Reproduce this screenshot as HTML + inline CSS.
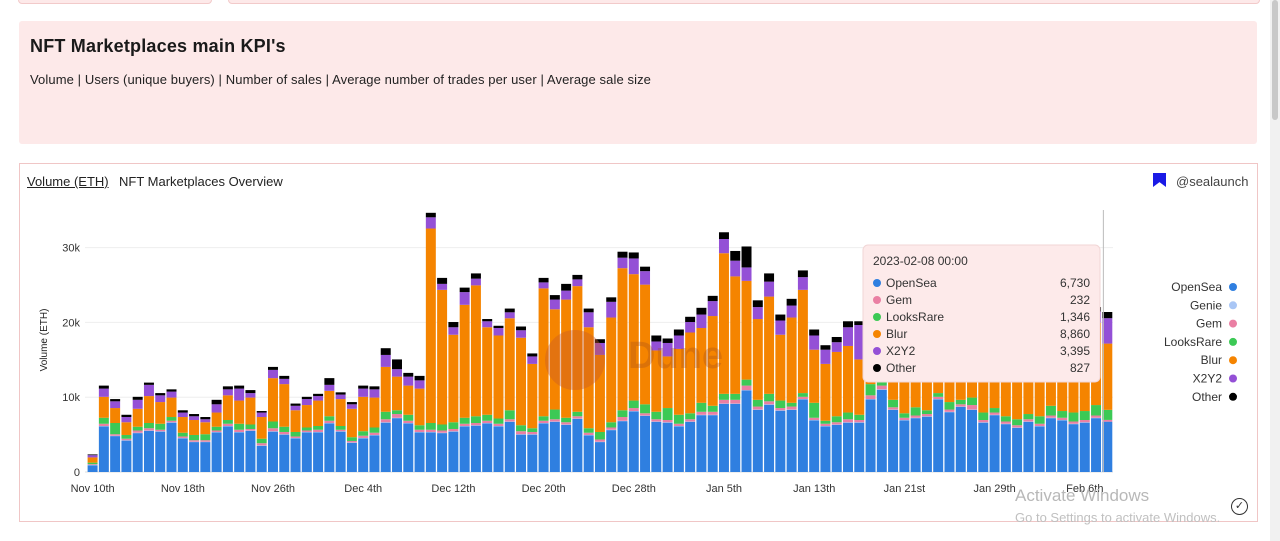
<!DOCTYPE html>
<html><head><meta charset="utf-8">
<style>
body{margin:0;width:1280px;height:541px;background:#fff;font-family:"Liberation Sans",sans-serif;position:relative;overflow:hidden;color:#222}
.abs{position:absolute}
</style></head><body>
<div class="abs" style="left:18px;top:-10px;width:192px;height:12px;border:1px solid #f2caca;border-radius:4px;background:#fde9e9"></div>
<div class="abs" style="left:228px;top:-10px;width:1030px;height:12px;border:1px solid #f2caca;border-radius:4px;background:#fde9e9"></div>
<div class="abs" style="left:19px;top:21px;width:1238px;height:123px;background:#fde9e9;border-radius:3px">
  <div class="abs" style="left:11px;top:15px;font-size:18px;font-weight:bold;color:#1a1a1a;letter-spacing:0.2px">NFT Marketplaces main KPI's</div>
  <div class="abs" style="left:11px;top:51px;font-size:13px;color:#222;letter-spacing:0.1px">Volume | Users (unique buyers) | Number of sales | Average number of trades per user | Average sale size</div>
</div>
<div class="abs" style="left:1270px;top:0;width:10px;height:541px;background:#f1f1f1"><div style="position:absolute;left:2px;top:0;width:6px;height:120px;background:#c8c8c8;border-radius:3px"></div></div>
<div class="abs" style="left:19px;top:163px;width:1237px;height:357px;border:1px solid #f0c6c6;background:#fff">
  <div class="abs" style="left:7px;top:10px;font-size:13px;text-decoration:underline;color:#222">Volume (ETH)</div>
  <div class="abs" style="left:99px;top:10px;font-size:13px;color:#222">NFT Marketplaces Overview</div>
  <div class="abs" style="left:1133px;top:9px;width:13px;height:14px;background:#1a1ae6;clip-path:polygon(0 0,100% 0,100% 100%,50% 65%,0 100%)"></div>
  <div class="abs" style="left:1156px;top:10px;font-size:13px;color:#444">@sealaunch</div>
</div>
<svg class="abs" style="left:0;top:0" width="1280" height="541" id="chart"></svg>
<div class="abs" style="left:1015px;top:486px;font-size:17px;color:#b8b8b8">Activate Windows</div>
<div class="abs" style="left:1015px;top:510px;font-size:13px;color:#c0c0c0">Go to Settings to activate Windows.</div>
<div class="abs" style="left:1231px;top:498px;width:15px;height:15px;border:1.5px solid #333;border-radius:50%;font-size:11px;line-height:15px;text-align:center;color:#333">✓</div>
<script>
const tickLabels=["Nov 10th","Nov 18th","Nov 26th","Dec 4th","Dec 12th","Dec 20th","Dec 28th","Jan 5th","Jan 13th","Jan 21st","Jan 29th","Feb 6th"];
const yTicks=[0,10000,20000,30000];
const yTickLabels=["0","10k","20k","30k"];
const seriesNames=["OpenSea","Genie","Gem","LooksRare","Blur","X2Y2","Other"];
const opensea=[0.9,6.1,4.8,4.2,5.2,5.5,5.4,6.6,4.5,4.0,4.0,5.3,6.1,5.3,5.5,3.5,5.4,5.0,4.5,5.3,5.3,6.5,5.4,3.9,4.5,4.9,6.6,7.2,6.5,5.3,5.3,
5.2,5.4,6.1,6.2,6.5,6.1,6.7,5.0,5.0,6.5,6.7,6.3,7.1,4.9,4.0,5.6,6.8,8.1,7.5,6.7,6.6,6.1,6.7,7.6,7.6,9.1,9.1,10.9,8.3,
9.0,8.2,8.3,9.7,6.9,6.1,6.3,6.6,6.6,9.7,11.0,8.3,6.9,7.2,7.4,9.7,8.0,8.7,8.3,6.6,7.6,6.4,5.9,6.7,6.1,7.2,6.9,6.4,6.6,7.2,6.73];
const genie=[0.05,0.05,0.05,0.05,0.05,0.05,0.05,0.05,0.05,0.05,0.05,0.05,0.05,0.05,0.05,0.05,0.05,0.05,0.05,0.05,0.05,0.05,0.05,0.05,0.05,0.05,0.05,0.05,0.05,0.05,0.05,
0.05,0.05,0.05,0.05,0.05,0.05,0.05,0.05,0.05,0.05,0.05,0.05,0.05,0.05,0.05,0.05,0.05,0.05,0.05,0.05,0.05,0.05,0.05,0.05,0.05,0.05,0.05,0.05,0.05,
0.05,0.05,0.05,0.05,0.05,0.05,0.05,0.05,0.05,0.05,0.05,0.05,0.05,0.05,0.05,0.05,0.05,0.05,0.05,0.05,0.05,0.05,0.05,0.05,0.05,0.05,0.05,0.05,0.05,0.05,0.0];
const gem=[0.1,0.3,0.2,0.2,0.3,0.3,0.2,0.2,0.2,0.2,0.2,0.2,0.3,0.3,0.2,0.3,0.4,0.3,0.2,0.2,0.3,0.3,0.2,0.2,0.3,0.3,0.4,0.5,0.3,0.3,0.3,
0.3,0.3,0.3,0.3,0.3,0.3,0.3,0.4,0.3,0.3,0.3,0.3,0.3,0.3,0.3,0.3,0.5,0.4,0.3,0.3,0.3,0.3,0.3,0.4,0.4,0.5,0.5,0.6,0.4,
0.4,0.3,0.4,0.3,0.3,0.3,0.3,0.4,0.3,0.5,0.5,0.3,0.3,0.3,0.3,0.3,0.3,0.3,0.6,0.3,0.3,0.3,0.3,0.3,0.3,0.3,0.3,0.3,0.3,0.3,0.232];
const looksrare=[0.2,0.8,1.5,0.5,0.5,0.7,0.8,0.5,0.5,0.7,0.8,0.5,0.5,0.8,0.6,0.6,0.9,0.7,0.6,0.4,0.5,0.6,0.5,0.5,0.6,0.7,1.0,0.5,0.8,0.6,0.9,
0.8,0.9,0.8,0.9,0.8,0.7,1.2,0.8,0.5,0.6,1.3,0.6,0.6,0.6,1.0,0.7,0.9,1.0,1.2,1.0,1.6,1.2,0.8,1.2,0.8,0.8,0.8,0.8,0.9,
1.0,1.0,0.5,0.5,2.0,0.4,0.8,0.9,0.7,1.5,0.8,1.0,0.6,1.1,0.5,0.5,1.0,0.6,1.0,1.0,0.6,0.7,0.8,0.7,1.0,1.3,0.9,1.2,1.2,1.4,1.346];
const blur=[0.7,2.8,2.0,1.7,2.4,3.6,2.9,2.6,2.1,2.0,1.6,1.9,3.3,3.1,3.6,2.9,5.8,5.7,2.9,3.0,3.4,3.4,3.6,3.8,4.6,4.0,6.0,4.5,3.9,4.9,26,
18,11.7,15.1,17.5,11.7,11.1,12.3,11.7,8.6,17.1,13.4,15.8,16.8,13.5,10.3,14,19,16.9,16,8.2,6.9,8.8,10.8,10.0,12.0,18.8,15.7,13.2,10.8,
13,8.8,11.4,13.8,7.1,7.6,8.6,8.9,7.4,8.3,9.6,9.3,9.1,9.3,7.7,9.4,9.6,8.3,10,9,7.4,7.5,8.9,9.2,10.5,10.1,8.8,10,10.8,11,8.86];
const x2y2=[0.3,1.1,0.9,0.7,1.2,1.5,0.9,0.8,0.6,0.5,0.4,1.1,0.8,1.6,0.6,0.6,1.1,0.7,0.6,0.8,0.6,0.8,0.6,0.6,1.1,1.1,1.6,1.0,1.2,1.1,1.5,
0.8,1.0,1.7,0.9,0.8,1.0,0.8,1.0,1.0,0.8,1.3,1.2,0.9,2.0,1.6,2.1,1.4,2.1,1.8,1.2,1.8,1.8,1.4,1.8,2.0,1.9,2.1,1.8,1.6,
2.0,1.9,1.6,1.7,1.9,1.9,1.3,2.5,4.6,1.5,1.5,1.5,1.5,1.5,1.5,1.5,1.5,1.5,1.5,1.5,1.5,1.5,1.5,1.5,1.5,1.5,1.5,1.5,1.5,1.5,3.395];
const other=[0.1,0.4,0.3,0.3,0.4,0.3,0.3,0.3,0.3,0.3,0.3,0.6,0.4,0.4,0.4,0.2,0.4,0.4,0.3,0.3,0.3,0.9,0.3,0.3,0.4,0.4,0.9,1.3,0.5,0.6,0.6,
0.8,0.7,0.6,0.7,0.3,0.3,0.5,0.5,0.4,0.6,0.6,0.9,0.6,0.5,0.5,0.6,0.8,0.8,0.6,0.8,0.6,0.8,0.7,0.9,0.7,0.9,1.3,2.8,0.9,
1.1,0.8,0.9,0.9,0.8,0.6,0.7,0.8,0.5,0.6,0.6,0.6,0.6,0.6,0.6,0.6,0.6,0.6,0.6,0.6,0.6,0.6,0.6,0.6,0.6,0.6,0.6,0.6,0.6,0.6,0.827];
const tooltipDate="2023-02-08 00:00";
const tooltipValues=["6,730","232","1,346","8,860","3,395","827"];

const NS="http://www.w3.org/2000/svg";
const svg=document.getElementById('chart');
const colors=["#2f7fe0","#a9c6f5","#ea7fa3","#3cc955","#f58400","#9450d6","#000000"];
const series=[opensea,genie,gem,looksrare,blur,x2y2,other];
const X0=87,X1=1113,Y0=472,PXK=7.48;
const n=opensea.length, step=(X1-X0)/n;
const xPos=i=>X0+i*step;
const yPos=v=>Y0-v*PXK;
function mk(tag,attrs,parent){const e=document.createElementNS(NS,tag);for(const k in attrs)e.setAttribute(k,attrs[k]);(parent||svg).appendChild(e);return e;}
yTicks.forEach((t,i)=>{
  const y=yPos(t/1000);
  const g=mk('line',{x1:X0-2,x2:X1,y1:y,y2:y,stroke:i==0?'#ddd':'#eeeeee','stroke-width':1});
  
  
  const tx=mk('text',{x:80,y:y+4,'text-anchor':'end','font-size':11,fill:'#333','font-family':'Liberation Sans, sans-serif'});
  tx.textContent=yTickLabels[i];
  
  
});
const yt=mk('text',{x:0,y:0,transform:'translate(47,340) rotate(-90)','text-anchor':'middle','font-size':10,fill:'#222','font-family':'Liberation Sans, sans-serif'});
yt.textContent="Volume (ETH)";


for(let i=0;i<n;i++){
  let acc=0;
  for(let s=0;s<series.length;s++){
    const v=series[s][i];
    const r=mk('rect',{x:xPos(i)+0.6,y:yPos(acc+v),width:step-1.3,height:Math.max(0,v*PXK),fill:colors[s]});
    
    
    acc+=v;
  }
}
const wm=mk('circle',{cx:575,cy:360,r:30,fill:'#c85a28',opacity:0.4});


const wt=mk('text',{x:628,y:368,'font-size':38,'font-weight':'bold',fill:'#a04a1c',opacity:0.3,'font-family':'Liberation Sans, sans-serif'});
wt.textContent="Dune";


tickLabels.forEach((l,i)=>{
  const x=xPos(i*8)+step/2;
  const t=mk('text',{x:x,y:492,'text-anchor':'middle','font-size':11,fill:'#333','font-family':'Liberation Sans, sans-serif'});
  t.textContent=l;
  
  
});
const ch=mk('line',{x1:xPos(n-1)+step/2-4,x2:xPos(n-1)+step/2-4,y1:210,y2:472,stroke:'#bbb','stroke-width':1});


const tg=mk('g',{});


mk('rect',{x:863,y:245,width:237,height:137,rx:5,fill:'#fdeaea',stroke:'#f1d6d6'},tg);
const td=mk('text',{x:873,y:265,'font-size':12,fill:'#333','font-family':'Liberation Sans, sans-serif'},tg);td.textContent=tooltipDate;
const tipIdx=[0,2,3,4,5,6];
tipIdx.forEach((s,k)=>{
  const y=287+k*17;
  mk('circle',{cx:877,cy:y-4,r:4,fill:colors[s]},tg);
  const a=mk('text',{x:886,y:y,'font-size':12,fill:'#333','font-family':'Liberation Sans, sans-serif'},tg);a.textContent=seriesNames[s];
  const b=mk('text',{x:1090,y:y,'text-anchor':'end','font-size':12,fill:'#333','font-family':'Liberation Sans, sans-serif'},tg);b.textContent=tooltipValues[k];
});
seriesNames.forEach((nm,s)=>{
  const y=291+s*18.3;
  const t=mk('text',{x:1222,y:y,'text-anchor':'end','font-size':12,fill:'#333','font-family':'Liberation Sans, sans-serif'});
  t.textContent=nm;
  
  
  mk('circle',{cx:1233,cy:y-4,r:4,fill:colors[s]});
});
</script>
</body></html>
